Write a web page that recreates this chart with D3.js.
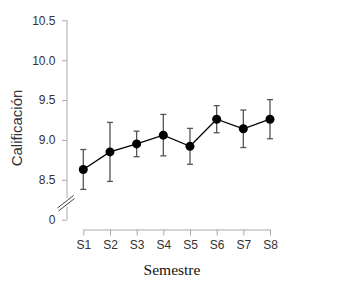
<!DOCTYPE html>
<html><head><meta charset="utf-8">
<script src="https://cdn.jsdelivr.net/npm/d3@7"></script>
<style>body{margin:0;background:#fff;} svg{display:block;}</style>
</head><body>
<script>
const categories = ["S1","S2","S3","S4","S5","S6","S7","S8"];
const means = [8.63, 8.85, 8.95, 9.06, 8.92, 9.26, 9.14, 9.26];
const errors = [0.25, 0.37, 0.16, 0.26, 0.225, 0.17, 0.235, 0.245];
const yTickValues = [8.0, 8.5, 9.0, 9.5, 10.0, 10.5];
const yTickLabels = ["0", "8.5", "9.0", "9.5", "10.0", "10.5"];

const W = 346, H = 293;
const svg = d3.select("body").append("svg").attr("width", W).attr("height", H);

const x = d3.scalePoint().domain(categories).range([83.3, 270]);
const y = d3.scaleLinear().domain([8, 10.5]).range([219.7, 20.3]);

const axisColor = "#aaa";
// Y axis
const yAxis = d3.axisLeft(y).tickValues(yTickValues)
  .tickFormat((d,i) => yTickLabels[i]).tickSize(5).tickSizeOuter(0);
const gy = svg.append("g").attr("transform", "translate(67,0)").call(yAxis);
gy.select(".domain").remove();
gy.selectAll(".tick line").attr("stroke", axisColor);
gy.selectAll(".tick text").attr("fill", "#333").attr("font-family", "Liberation Sans, Arial, sans-serif").attr("font-size", 12).attr("x", -11.5);
gy.append("line").attr("x1",0).attr("x2",0).attr("y1", y(10.5)).attr("y2", 198).attr("stroke", axisColor);
gy.append("line").attr("x1",0).attr("x2",0).attr("y1", 207).attr("y2", y(8)).attr("stroke", axisColor);
// break marks
const brk = svg.append("g");
brk.append("line").attr("x1",57.5).attr("y1",208).attr("x2",73.5).attr("y2",195.5).attr("stroke","#444").attr("stroke-width",1);
brk.append("line").attr("x1",58.5).attr("y1",211).attr("x2",74.5).attr("y2",198.5).attr("stroke","#444").attr("stroke-width",1);

// X axis
const xAxis = d3.axisBottom(x).tickSize(6).tickSizeOuter(0);
const gx = svg.append("g").attr("transform", "translate(0,229.5)").call(xAxis);
gx.select(".domain").attr("stroke", axisColor);
gx.selectAll(".tick line").attr("stroke", axisColor);
gx.selectAll(".tick text").attr("fill", "#333").attr("font-family", "Liberation Sans, Arial, sans-serif").attr("font-size", 12).attr("y", 10.5);

// error bars
const eb = svg.append("g").attr("stroke", "#555").attr("stroke-width", 1.3);
categories.forEach((c, i) => {
  const cx = x(c);
  eb.append("line").attr("x1", cx).attr("x2", cx).attr("y1", y(means[i]-errors[i])).attr("y2", y(means[i]+errors[i]));
  eb.append("line").attr("x1", cx-3).attr("x2", cx+3).attr("y1", y(means[i]-errors[i])).attr("y2", y(means[i]-errors[i]));
  eb.append("line").attr("x1", cx-3).attr("x2", cx+3).attr("y1", y(means[i]+errors[i])).attr("y2", y(means[i]+errors[i]));
});

// line
svg.append("path").datum(means)
  .attr("d", d3.line().x((d,i) => x(categories[i])).y(d => y(d)))
  .attr("fill", "none").attr("stroke", "#000").attr("stroke-width", 1.3);

svg.append("g").selectAll("circle").data(means).join("circle")
  .attr("cx", (d,i) => x(categories[i])).attr("cy", d => y(d)).attr("r", 4.5).attr("fill", "#000");

// titles
svg.append("text").attr("x", 172).attr("y", 275).attr("text-anchor", "middle")
  .attr("font-family", "Liberation Serif, Times New Roman, serif").attr("font-size", 15.5).attr("fill", "#111").text("Semestre");
svg.append("text").attr("transform", "translate(21.5,128) rotate(-90)").attr("text-anchor", "middle")
  .attr("font-family", "Liberation Sans, Arial, sans-serif").attr("font-size", 15).attr("fill", "#333").text("Calificación");
</script>
</body></html>
